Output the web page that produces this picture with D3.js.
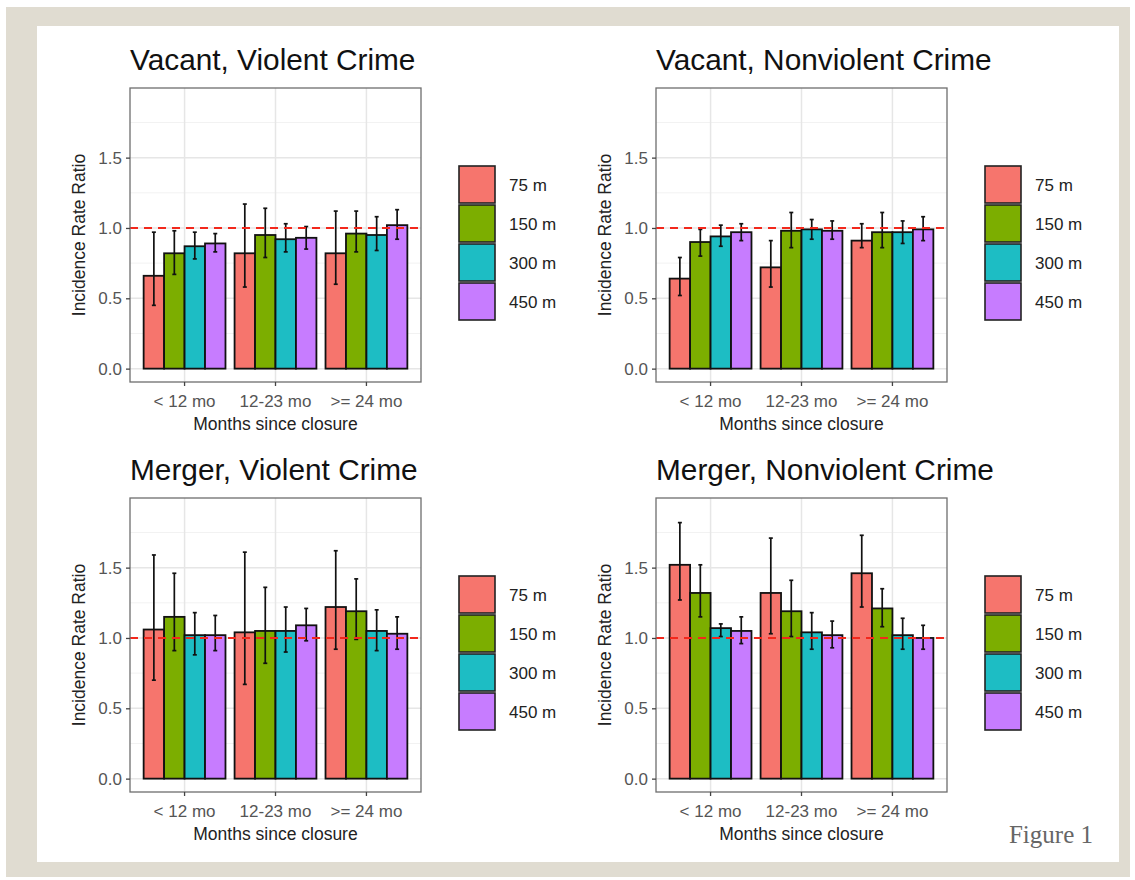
<!DOCTYPE html>
<html>
<head>
<meta charset="utf-8">
<script src="https://cdn.jsdelivr.net/npm/d3@7"></script>
<style>
  html, body { margin: 0; padding: 0; background: #ffffff; }
  svg { display: block; }
  text { font-family: "Liberation Sans", Arial, Helvetica, sans-serif; }
</style>
</head>
<body>
<svg id="fig" width="1135" height="880"></svg>
<script>
// Closure period categories and buffer distances
const periods = ["< 12 mo", "12-23 mo", ">= 24 mo"];
const distances = ["75 m", "150 m", "300 m", "450 m"];
const distanceColors = ["#F6756D", "#7CAE00", "#1DBDC4", "#C77CFF"];
const yTicks = [0, 0.5, 1.0, 1.5];
const yMinorTicks = [0.25, 0.75, 1.25, 1.75];

// Incidence rate ratios and 95% CIs, rows = period, columns = distance
const vacantViolentIRR   = [[0.66, 0.82, 0.87, 0.89], [0.82, 0.95, 0.92, 0.93], [0.82, 0.96, 0.95, 1.02]];
const vacantViolentLower = [[0.45, 0.67, 0.78, 0.83], [0.58, 0.79, 0.83, 0.85], [0.60, 0.83, 0.84, 0.92]];
const vacantViolentUpper = [[0.97, 0.98, 0.97, 0.96], [1.17, 1.14, 1.03, 1.01], [1.12, 1.12, 1.08, 1.13]];

const vacantNonviolentIRR   = [[0.64, 0.90, 0.94, 0.97], [0.72, 0.98, 0.99, 0.98], [0.91, 0.97, 0.97, 0.99]];
const vacantNonviolentLower = [[0.52, 0.80, 0.87, 0.91], [0.58, 0.86, 0.92, 0.92], [0.86, 0.86, 0.89, 0.91]];
const vacantNonviolentUpper = [[0.79, 0.99, 1.02, 1.03], [0.91, 1.11, 1.06, 1.05], [1.03, 1.11, 1.05, 1.08]];

const mergerViolentIRR   = [[1.06, 1.15, 1.02, 1.02], [1.04, 1.05, 1.05, 1.09], [1.22, 1.19, 1.05, 1.03]];
const mergerViolentLower = [[0.70, 0.91, 0.88, 0.91], [0.67, 0.82, 0.90, 0.98], [0.92, 0.99, 0.91, 0.92]];
const mergerViolentUpper = [[1.59, 1.46, 1.18, 1.16], [1.61, 1.36, 1.22, 1.21], [1.62, 1.42, 1.20, 1.15]];

const mergerNonviolentIRR   = [[1.52, 1.32, 1.07, 1.05], [1.32, 1.19, 1.04, 1.02], [1.46, 1.21, 1.02, 1.00]];
const mergerNonviolentLower = [[1.27, 1.15, 1.01, 0.96], [1.03, 1.01, 0.92, 0.93], [1.22, 1.08, 0.92, 0.92]];
const mergerNonviolentUpper = [[1.82, 1.52, 1.10, 1.15], [1.71, 1.41, 1.18, 1.12], [1.73, 1.35, 1.14, 1.09]];

const panels = [
  { title: "Vacant, Violent Crime",     irr: vacantViolentIRR,     lo: vacantViolentLower,     hi: vacantViolentUpper,     left: 130, top: 88 },
  { title: "Vacant, Nonviolent Crime",  irr: vacantNonviolentIRR,  lo: vacantNonviolentLower,  hi: vacantNonviolentUpper,  left: 656, top: 88 },
  { title: "Merger, Violent Crime",     irr: mergerViolentIRR,     lo: mergerViolentLower,     hi: mergerViolentUpper,     left: 130, top: 498 },
  { title: "Merger, Nonviolent Crime",  irr: mergerNonviolentIRR,  lo: mergerNonviolentLower,  hi: mergerNonviolentUpper,  left: 656, top: 498 }
];

const svg = d3.select("#fig");

// Figure frame
svg.append("rect").attr("x", 6).attr("y", 7).attr("width", 1124).attr("height", 870).attr("fill", "#e0dcd1");
svg.append("rect").attr("x", 37).attr("y", 26).attr("width", 1082).attr("height", 836).attr("fill", "#ffffff");

const panelW = 291, panelH = 294;
const color = d3.scaleOrdinal().domain(distances).range(distanceColors);

panels.forEach(p => {
  const g = svg.append("g").attr("transform", `translate(${p.left},${p.top})`);

  const x = d3.scaleBand().domain(periods).range([0, panelW]).paddingInner(0).paddingOuter(0.1);
  const step = x.step();
  const xInner = d3.scaleBand().domain(distances).range([-0.45 * step, 0.45 * step]);
  const y = d3.scaleLinear().domain([-0.095, 1.995]).range([panelH, 0]);

  // Grid lines
  g.selectAll(".minor").data(yMinorTicks).join("line")
    .attr("x1", 0).attr("x2", panelW)
    .attr("y1", d => y(d)).attr("y2", d => y(d))
    .attr("stroke", "#f2f2f2").attr("stroke-width", 1);
  g.selectAll(".major").data(yTicks).join("line")
    .attr("x1", 0).attr("x2", panelW)
    .attr("y1", d => y(d)).attr("y2", d => y(d))
    .attr("stroke", "#e6e6e6").attr("stroke-width", 1.5);
  g.selectAll(".vmajor").data(periods).join("line")
    .attr("x1", d => x(d) + step / 2).attr("x2", d => x(d) + step / 2)
    .attr("y1", 0).attr("y2", panelH)
    .attr("stroke", "#e6e6e6").attr("stroke-width", 1.5);

  // Bars and error bars
  periods.forEach((per, i) => {
    const cx = x(per) + step / 2;
    const grp = g.append("g").attr("transform", `translate(${cx},0)`);
    grp.selectAll("rect").data(distances).join("rect")
      .attr("x", d => xInner(d))
      .attr("width", xInner.bandwidth())
      .attr("y", (d, j) => y(p.irr[i][j]))
      .attr("height", (d, j) => y(0) - y(p.irr[i][j]))
      .attr("fill", d => color(d))
      .attr("stroke", "#111").attr("stroke-width", 1.8);
    distances.forEach((d, j) => {
      const ex = xInner(d) + xInner.bandwidth() / 2;
      grp.append("line").attr("x1", ex).attr("x2", ex)
        .attr("y1", y(p.lo[i][j])).attr("y2", y(p.hi[i][j]))
        .attr("stroke", "#111").attr("stroke-width", 1.7);
      [p.lo[i][j], p.hi[i][j]].forEach(v => {
        grp.append("line").attr("x1", ex - 2).attr("x2", ex + 2)
          .attr("y1", y(v)).attr("y2", y(v))
          .attr("stroke", "#111").attr("stroke-width", 1.7);
      });
    });
  });

  // Reference line at IRR = 1
  g.append("line").attr("x1", 0).attr("x2", panelW)
    .attr("y1", y(1)).attr("y2", y(1))
    .attr("stroke", "#f2281c").attr("stroke-width", 2)
    .attr("stroke-dasharray", "8,6");

  // Panel border
  g.append("rect").attr("x", 0).attr("y", 0).attr("width", panelW).attr("height", panelH)
    .attr("fill", "none").attr("stroke", "#6e6e6e").attr("stroke-width", 1.3);

  // Axes
  const yAxis = g.append("g").call(d3.axisLeft(y).tickValues(yTicks).tickFormat(d3.format(".1f")).tickSize(4).tickPadding(4));
  const xAxis = g.append("g").attr("transform", `translate(0,${panelH})`)
    .call(d3.axisBottom(x).tickSize(4).tickPadding(9));
  [yAxis, xAxis].forEach(ax => {
    ax.select(".domain").remove();
    ax.selectAll(".tick line").attr("stroke", "#444").attr("stroke-width", 1.3);
    ax.selectAll(".tick text").attr("fill", "#555").style("font-size", "17px");
  });

  // Titles
  g.append("text").attr("x", 0).attr("y", -18)
    .attr("fill", "#111").style("font-size", "29.8px").text(p.title);
  g.append("text").attr("x", panelW / 2).attr("y", panelH + 48)
    .attr("text-anchor", "middle").attr("fill", "#222").style("font-size", "17.5px")
    .text("Months since closure");
  g.append("text").attr("transform", `translate(-45,${panelH / 2}) rotate(-90)`)
    .attr("text-anchor", "middle").attr("fill", "#222").style("font-size", "17.5px")
    .text("Incidence Rate Ratio");

  // Legend
  const lg = g.append("g").attr("transform", `translate(${panelW + 38},78)`);
  distances.forEach((d, j) => {
    lg.append("rect").attr("x", 0).attr("y", j * 39).attr("width", 36).attr("height", 37)
      .attr("fill", color(d)).attr("stroke", "#222").attr("stroke-width", 1.6);
    lg.append("text").attr("x", 50).attr("y", j * 39 + 19).attr("dy", "0.35em")
      .attr("fill", "#222").style("font-size", "17px").text(d);
  });
});

// Figure label
svg.append("text").attr("x", 1093).attr("y", 843).attr("text-anchor", "end")
  .attr("fill", "#666").style("font-family", "'Liberation Serif', 'DejaVu Serif', serif")
  .style("font-size", "25px").text("Figure 1");
</script>
</body>
</html>
